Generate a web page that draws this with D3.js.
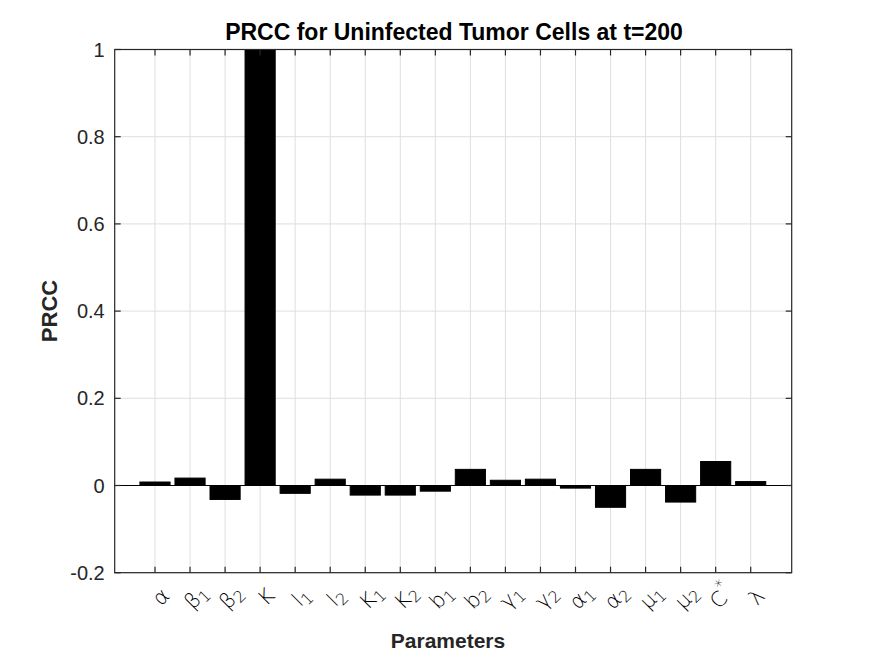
<!DOCTYPE html>
<html>
<head>
<meta charset="utf-8">
<script src="https://cdn.jsdelivr.net/npm/d3@7"></script>
<style>
  html, body { margin: 0; padding: 0; background: #fff; }
  svg { display: block; }
</style>
</head>
<body>
<svg id="chart" width="875" height="656"></svg>
<script>
// ---- data ----
const categories = ["α", "β_1", "β_2", "K", "l_1", "l_2", "K_1", "K_2", "b_1", "b_2",
                    "γ_1", "γ_2", "α_1", "α_2", "μ_1", "μ_2", "C^*", "λ"];
const prccValues = [0.008, 0.017, -0.032, 1.0, -0.018, 0.0145, -0.022, -0.022, -0.013, 0.037,
                    0.012, 0.0145, -0.006, -0.05, 0.037, -0.038, 0.055, 0.009];
const yTicks = [-0.2, 0, 0.2, 0.4, 0.6, 0.8, 1];
const yTickLabels = ["-0.2", "0", "0.2", "0.4", "0.6", "0.8", "1"];
const titleText = "PRCC for Uninfected Tumor Cells at t=200";
const xLabelText = "Parameters";
const yLabelText = "PRCC";

// ---- layout ----
const W = 875, H = 656;
const axL = 114.7, axR = 791.7, axT = 49.5, axB = 572.7;
const axisColor = "#262626";
const gridColor = "#dfdfdf";

const svg = d3.select("#chart");
svg.append("rect").attr("width", W).attr("height", H).attr("fill", "#fff");

const idx = categories.map((d, i) => i + 1);
const x = d3.scaleLinear().domain([-0.15, 19.17]).range([axL, axR]);
const y = d3.scaleLinear().domain([-0.2, 1]).range([axB, axT]);
const barW = 0.86;

// grid
const grid = svg.append("g");
grid.selectAll("line.vg").data(idx).join("line")
  .attr("x1", d => x(d)).attr("x2", d => x(d))
  .attr("y1", axT).attr("y2", axB)
  .attr("stroke", gridColor).attr("stroke-width", 1);
grid.selectAll("line.hg").data(yTicks).join("line")
  .attr("x1", axL).attr("x2", axR)
  .attr("y1", d => y(d)).attr("y2", d => y(d))
  .attr("stroke", gridColor).attr("stroke-width", 1);

// baseline at 0
svg.append("line")
  .attr("x1", axL).attr("x2", axR)
  .attr("y1", y(0)).attr("y2", y(0))
  .attr("stroke", "#000").attr("stroke-width", 1);

// bars
svg.append("g").selectAll("rect").data(prccValues).join("rect")
  .attr("x", (d, i) => x(i + 1 - barW / 2))
  .attr("width", (d, i) => x(i + 1 + barW / 2) - x(i + 1 - barW / 2))
  .attr("y", d => y(Math.max(0, d)))
  .attr("height", d => Math.abs(y(d) - y(0)))
  .attr("fill", "#000").attr("stroke", "#000").attr("stroke-width", 1);

// axes box
svg.append("rect")
  .attr("x", axL).attr("y", axT)
  .attr("width", axR - axL).attr("height", axB - axT)
  .attr("fill", "none").attr("stroke", axisColor).attr("stroke-width", 1.2);

// ticks (inward, mirrored)
const tl = 6;
const ticks = svg.append("g").attr("stroke", axisColor).attr("stroke-width", 1.2);
ticks.selectAll("line.xb").data(idx).join("line")
  .attr("x1", d => x(d)).attr("x2", d => x(d)).attr("y1", axB).attr("y2", axB - tl);
ticks.selectAll("line.xt").data(idx).join("line")
  .attr("x1", d => x(d)).attr("x2", d => x(d)).attr("y1", axT).attr("y2", axT + tl);
ticks.selectAll("line.yl").data(yTicks).join("line")
  .attr("x1", axL).attr("x2", axL + tl).attr("y1", d => y(d)).attr("y2", d => y(d));
ticks.selectAll("line.yr").data(yTicks).join("line")
  .attr("x1", axR).attr("x2", axR - tl).attr("y1", d => y(d)).attr("y2", d => y(d));

// y tick labels
svg.append("g").selectAll("text").data(yTicks).join("text")
  .attr("x", axL - 10).attr("y", d => y(d))
  .attr("text-anchor", "end").attr("dominant-baseline", "central")
  .attr("font-family", "Liberation Sans, Arial, sans-serif")
  .attr("font-size", 20).attr("fill", axisColor)
  .text((d, i) => yTickLabels[i]);

// x tick labels (TeX-like, rotated)
const xl = svg.append("g");
categories.forEach((lab, i) => {
  const g = xl.append("g")
    .attr("transform", `translate(${x(i + 1) + 6},${597}) rotate(-45)`);
  const t = g.append("text")
    .attr("text-anchor", "middle").attr("dominant-baseline", "central")
    .attr("font-family", "DejaVu Sans, sans-serif")
    .attr("font-weight", 200)
    .attr("font-size", 21).attr("fill", "#000");
  const m = lab.match(/^(.+?)([_^])(.+)$/);
  if (m) {
    t.append("tspan").text(m[1]);
    t.append("tspan")
      .attr("font-size", 16)
      .attr("dy", m[2] === "_" ? 5 : -10)
      .text(m[3]);
  } else {
    t.text(lab);
  }
});

// title
svg.append("text")
  .attr("x", 454).attr("y", 40)
  .attr("text-anchor", "middle")
  .attr("font-family", "Liberation Sans, Arial, sans-serif")
  .attr("font-weight", "bold").attr("font-size", 23).attr("fill", "#000")
  .text(titleText);

// x label
svg.append("text")
  .attr("x", 448).attr("y", 648)
  .attr("text-anchor", "middle")
  .attr("font-family", "Liberation Sans, Arial, sans-serif")
  .attr("font-weight", "bold").attr("font-size", 21).attr("fill", axisColor)
  .text(xLabelText);

// y label
svg.append("text")
  .attr("transform", `translate(57,${311}) rotate(-90)`)
  .attr("text-anchor", "middle")
  .attr("font-family", "Liberation Sans, Arial, sans-serif")
  .attr("font-weight", "bold").attr("font-size", 22).attr("fill", axisColor)
  .text(yLabelText);
</script>
</body>
</html>
